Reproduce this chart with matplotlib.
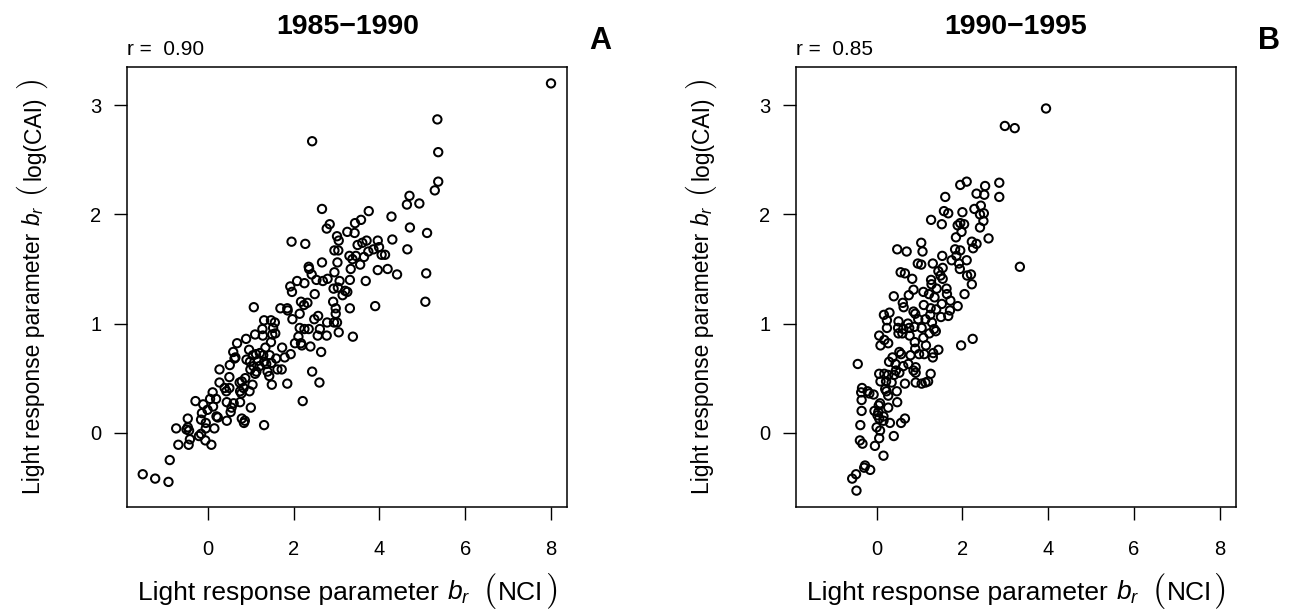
import matplotlib
matplotlib.use('Agg')
import matplotlib.pyplot as plt

plt.rcParams['font.family'] = ['Liberation Sans', 'DejaVu Sans']
plt.rcParams['mathtext.fontset'] = 'custom'
plt.rcParams['mathtext.rm'] = 'Liberation Sans'
plt.rcParams['mathtext.it'] = 'Liberation Sans:italic'

# panel A: 1985-1990
xa = [8.00, 5.35, 2.43, 5.37, 5.37, 5.29, 4.70, 4.64, 4.93, 2.66,
      3.75, 4.28, 3.57, 3.43, 2.84, 2.77, 4.71, 5.11, 3.25, 3.42,
      3.01, 3.05, 1.95, 2.27, 3.96, 4.30, 3.70, 3.60, 3.49, 3.99,
      3.86, 3.74, 2.95, 3.04, 4.65, 3.30, 3.45, 3.64, 4.05, 4.13,
      3.37, 3.55, 3.02, 2.66, 2.35, 2.36, 3.33, 3.96, 4.19, 4.41,
      5.09, 2.95, 2.42, 2.53, 2.68, 2.79, 3.07, 3.31, 3.68, 2.08,
      2.25, 1.92, 1.96, 2.49, 2.93, 3.03, 3.14, 3.20, 3.25, 2.92,
      2.17, 2.32, 2.24, 5.07, 2.98, 3.31, 3.90, 1.07, 1.69, 1.85,
      1.86, 2.14, 2.98, 2.57, 2.48, 1.97, 2.78, 2.94, 3.01, 1.31,
      1.47, 1.56, 1.27, 1.52, 2.14, 2.25, 2.35, 2.61, 3.05, 3.38,
      1.10, 1.28, 1.50, 1.57, 0.89, 2.56, 2.77, 2.11, 0.68, 1.47,
      2.17, 2.19, 2.03, 1.73, 2.39, 1.34, 0.96, 0.59, 2.64, 1.93,
      1.21, 1.12, 1.05, 1.29, 1.44, 1.79, 0.64, 0.62, 0.90, 1.59,
      0.98, 1.17, 1.31, 1.48, 0.51, 1.06, 1.20, 1.36, 1.62, 1.72,
      0.27, 0.99, 1.13, 1.39, 2.43, 1.43, 0.50, 0.87, 1.10, 0.27,
      0.74, 0.79, 2.60, 1.85, 1.49, 1.04, 0.39, 0.50, 0.83, 0.75,
      0.97, 0.11, 0.43, 0.78, 0.19, 0.05, -0.29, -0.11, 0.44, 0.60,
      0.75, 2.21, 0.12, 0.55, 1.00, -0.01, -0.14, 0.53, 0.20, 0.23,
      -0.47, -0.16, 0.44, 0.79, 0.86, 0.84, -0.05, 0.15, -0.47, -0.50,
      -0.74, 1.31, -0.05, -0.44, -0.21, -0.16, -0.42, -0.06, -0.69, -0.45,
      0.08, -0.89, -1.52, -1.23, -0.92]
ya = [3.20, 2.87, 2.67, 2.57, 2.30, 2.22, 2.17, 2.09, 2.10, 2.05,
      2.03, 1.98, 1.95, 1.92, 1.91, 1.87, 1.88, 1.83, 1.84, 1.83,
      1.80, 1.76, 1.75, 1.73, 1.76, 1.77, 1.76, 1.74, 1.72, 1.70,
      1.68, 1.66, 1.67, 1.67, 1.68, 1.62, 1.62, 1.61, 1.63, 1.63,
      1.59, 1.54, 1.56, 1.56, 1.52, 1.50, 1.50, 1.49, 1.50, 1.45,
      1.46, 1.47, 1.45, 1.40, 1.39, 1.41, 1.39, 1.40, 1.39, 1.39,
      1.37, 1.34, 1.29, 1.27, 1.32, 1.33, 1.26, 1.30, 1.29, 1.20,
      1.20, 1.19, 1.17, 1.20, 1.14, 1.14, 1.16, 1.15, 1.14, 1.14,
      1.12, 1.09, 1.09, 1.07, 1.04, 1.04, 1.01, 1.01, 1.01, 1.03,
      1.03, 1.01, 0.95, 0.96, 0.96, 0.95, 0.95, 0.95, 0.92, 0.88,
      0.90, 0.89, 0.90, 0.91, 0.86, 0.89, 0.89, 0.88, 0.82, 0.83,
      0.82, 0.80, 0.82, 0.78, 0.79, 0.78, 0.76, 0.74, 0.74, 0.72,
      0.73, 0.72, 0.71, 0.71, 0.71, 0.69, 0.69, 0.68, 0.67, 0.68,
      0.65, 0.66, 0.65, 0.64, 0.62, 0.61, 0.61, 0.63, 0.58, 0.58,
      0.58, 0.58, 0.56, 0.56, 0.56, 0.52, 0.51, 0.50, 0.54, 0.46,
      0.46, 0.47, 0.46, 0.45, 0.44, 0.44, 0.41, 0.41, 0.41, 0.38,
      0.38, 0.37, 0.38, 0.36, 0.31, 0.31, 0.29, 0.26, 0.28, 0.27,
      0.28, 0.29, 0.24, 0.23, 0.23, 0.21, 0.18, 0.19, 0.15, 0.14,
      0.13, 0.12, 0.11, 0.13, 0.11, 0.09, 0.09, 0.04, 0.05, 0.03,
      0.04, 0.07, 0.04, 0.02, -0.03, -0.01, -0.06, -0.07, -0.11, -0.11,
      -0.11, -0.25, -0.38, -0.42, -0.45]

# panel B: 1990-1995
xb = [3.95, 2.99, 3.22, 2.10, 1.95, 2.86, 2.53, 2.33, 2.51, 2.86,
      1.60, 2.43, 2.28, 2.50, 2.41, 1.57, 1.67, 2.00, 1.27, 1.52,
      1.89, 1.95, 2.04, 2.49, 2.41, 1.98, 1.85, 2.61, 2.22, 2.33,
      2.25, 1.04, 1.07, 0.48, 0.70, 1.83, 1.95, 1.86, 1.53, 1.75,
      0.96, 1.04, 1.31, 2.10, 1.92, 1.94, 1.54, 1.44, 3.34, 0.56,
      0.66, 1.49, 1.54, 2.11, 2.20, 0.83, 1.27, 1.28, 2.22, 0.86,
      1.09, 1.40, 1.63, 0.75, 0.40, 1.22, 1.35, 1.64, 2.05, 0.61,
      0.63, 1.10, 1.52, 1.72, 1.89, 1.26, 1.39, 1.71, 0.86, 0.90,
      0.30, 0.17, 1.25, 1.50, 1.67, 0.24, 1.14, 0.97, 0.51, 0.73,
      1.29, 0.24, 0.50, 0.62, 0.76, 0.88, 1.05, 1.34, 1.38, 0.51,
      0.60, 0.77, 1.23, 0.06, 1.09, 2.24, 0.18, 0.27, 0.09, 0.89,
      1.15, 1.97, 0.90, 0.53, 0.57, 1.44, 1.32, 0.99, 1.11, 0.79,
      1.31, 0.37, 0.29, -0.44, 0.44, 0.62, 0.74, 0.91, 0.86, 0.45,
      0.53, 0.91, 1.26, 0.06, 0.18, 0.27, 0.41, 0.09, 0.22, 0.35,
      0.66, 0.91, 1.05, 1.14, 1.20, -0.34, -0.36, -0.21, -0.17, -0.07,
      0.20, 0.23, 0.47, 0.27, 0.48, -0.35, 0.08, 0.05, 0.27, -0.35,
      -0.05, 0.04, 0.02, 0.16, 0.06, 0.66, 0.16, 0.31, 0.57, -0.38,
      0.00, 0.08, 0.06, 0.40, -0.39, -0.33, -0.04, 0.16, -0.27, -0.29,
      -0.15, -0.48, -0.57, -0.47]
yb = [2.97, 2.81, 2.79, 2.30, 2.27, 2.29, 2.26, 2.19, 2.18, 2.16,
      2.16, 2.08, 2.05, 2.01, 2.00, 2.03, 2.01, 2.02, 1.95, 1.91,
      1.90, 1.92, 1.91, 1.94, 1.88, 1.84, 1.79, 1.78, 1.75, 1.73,
      1.69, 1.74, 1.66, 1.68, 1.66, 1.68, 1.67, 1.62, 1.62, 1.58,
      1.55, 1.54, 1.55, 1.58, 1.55, 1.50, 1.51, 1.48, 1.52, 1.47,
      1.46, 1.44, 1.41, 1.44, 1.45, 1.41, 1.40, 1.36, 1.36, 1.31,
      1.29, 1.32, 1.32, 1.26, 1.25, 1.27, 1.24, 1.27, 1.27, 1.19,
      1.15, 1.17, 1.18, 1.21, 1.16, 1.14, 1.13, 1.12, 1.11, 1.09,
      1.10, 1.08, 1.08, 1.06, 1.07, 1.03, 1.04, 1.04, 1.02, 1.00,
      1.01, 0.96, 0.96, 0.95, 0.96, 0.97, 0.96, 0.95, 0.93, 0.91,
      0.91, 0.89, 0.91, 0.89, 0.87, 0.86, 0.85, 0.82, 0.80, 0.83,
      0.80, 0.80, 0.77, 0.74, 0.72, 0.76, 0.73, 0.72, 0.72, 0.71,
      0.69, 0.69, 0.65, 0.63, 0.63, 0.61, 0.63, 0.60, 0.57, 0.57,
      0.55, 0.55, 0.54, 0.54, 0.54, 0.53, 0.53, 0.47, 0.47, 0.46,
      0.45, 0.46, 0.45, 0.46, 0.47, 0.41, 0.37, 0.38, 0.36, 0.35,
      0.40, 0.38, 0.38, 0.34, 0.28, 0.30, 0.27, 0.25, 0.23, 0.20,
      0.20, 0.19, 0.16, 0.15, 0.13, 0.13, 0.11, 0.09, 0.09, 0.07,
      0.05, 0.02, -0.05, -0.03, -0.07, -0.10, -0.12, -0.21, -0.30, -0.32,
      -0.34, -0.38, -0.42, -0.53]

titles = ["1985\u22121990", "1990\u22121995"]
r_labels = ["r =  0.90", "r =  0.85"]
panel_tags = ["A", "B"]
xticks = [0, 2, 4, 6, 8]
yticks = [0, 1, 2, 3]

XTXT = dict(fontsize=19)
XPAR = dict(fontsize=25, math_fontfamily='cm')
YTXT = dict(fontsize=16.5)
YPAR = dict(fontsize=22, math_fontfamily='cm')
# (text, style, gap before in points)
xlab_parts = [("Light response parameter", XTXT, 0), ("$b_r$", XTXT, 6),
              ("$($", XPAR, 9), ("NCI", XTXT, 1), ("$)$", XPAR, 1)]
ylab_parts = [("Light response parameter", YTXT, 0), ("$b_r$", YTXT, 5),
              ("$($", YPAR, 6), ("log(CAI)", YTXT, 4), ("$)$", YPAR, 4)]


def chain_label(ax, parts, pos, vertical=False):
    # write the label piece by piece so the brackets can be bigger
    arts = []
    rot = 90 if vertical else 0
    first, st, gap = parts[0]
    t = ax.text(pos[0], pos[1], first, transform=ax.transAxes, ha='left', va='baseline',
                rotation=rot, rotation_mode='anchor', **st)
    arts.append(t)
    for txt, st, gap in parts[1:]:
        prev = arts[-1]
        if vertical:
            a = ax.annotate(txt, xy=(pos[0], 1.0), xycoords=(ax.transAxes, prev),
                            xytext=(0, gap), textcoords='offset points', ha='left',
                            va='baseline', rotation=90, rotation_mode='anchor', **st)
        else:
            a = ax.annotate(txt, xy=(1.0, pos[1]), xycoords=(prev, ax.transAxes),
                            xytext=(gap, 0), textcoords='offset points', ha='left',
                            va='baseline', **st)
        arts.append(a)
    return arts


fig = plt.figure(figsize=(12.9, 6.1), dpi=100)
lefts = [127.3 / 1290, 796.0 / 1290]
data = [(xa, ya), (xb, yb)]
labels = []

for i in range(2):
    ax = fig.add_axes([lefts[i], 103.0 / 610, 440.0 / 1290, 440.0 / 610])
    x, y = data[i]
    ax.scatter(x, y, s=36, facecolors='none', edgecolors='black', linewidths=1.45, zorder=3)
    ax.set_xlim(-1.88, 8.38)
    ax.set_ylim(-0.68, 3.35)
    ax.set_xticks(xticks)
    ax.set_yticks(yticks)
    ax.tick_params(direction='out', length=9.5, width=1.0, labelsize=14.5, color='black')
    ax.tick_params(axis='x', pad=14)
    ax.tick_params(axis='y', pad=9)
    for s in ax.spines.values():
        s.set_linewidth(1.1)
    xl = chain_label(ax, xlab_parts, (0.0, -0.211))
    yl = chain_label(ax, ylab_parts, (-0.198, 0.0), vertical=True)
    labels.append((ax, xl, yl))
    ax.text(0.5, 1.09, titles[i], transform=ax.transAxes, ha='center', va='center',
            fontsize=20.5, fontweight='bold')
    ax.text(0.0, 1.039, r_labels[i], transform=ax.transAxes, ha='left', va='center',
            fontsize=15)
    ax.text(1.075, 1.06, panel_tags[i], transform=ax.transAxes, ha='center', va='center',
            fontsize=22, fontweight='bold')

# centre the chained labels on their axes
fig.canvas.draw()
r = fig.canvas.get_renderer()
for ax, xl, yl in labels:
    abb = ax.get_window_extent(r)
    bbs = [t.get_window_extent(r) for t in xl]
    mid = (min(b.x0 for b in bbs) + max(b.x1 for b in bbs)) / 2
    px, py = xl[0].get_position()
    xl[0].set_position((px + ((abb.x0 + abb.x1) / 2 - mid) / abb.width, py))
    bbs = [t.get_window_extent(r) for t in yl]
    mid = (min(b.y0 for b in bbs) + max(b.y1 for b in bbs)) / 2
    px, py = yl[0].get_position()
    yl[0].set_position((px, py + ((abb.y0 + abb.y1) / 2 - mid) / abb.height))

fig.savefig('out.png', dpi=100)
